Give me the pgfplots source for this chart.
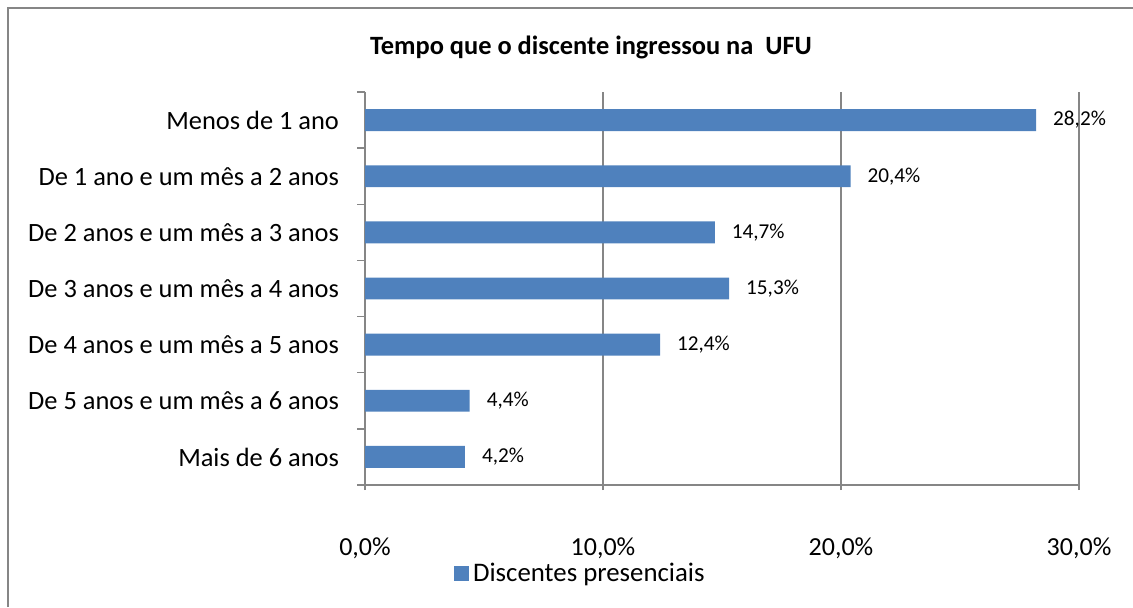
\documentclass[border=0pt]{standalone}
\usepackage{fontspec}
\setmainfont{Carlito}
\usepackage{pgfplots}
\pgfplotsset{compat=1.18}
\definecolor{barblue}{HTML}{4F81BD}
\definecolor{axgray}{HTML}{868686}
\begin{document}
\begin{tikzpicture}
\useasboundingbox (0,0) rectangle (566.5pt,303.5pt);
\draw[axgray, line width=1pt] (4pt,0) -- (4pt,299.5pt) -- (566.5pt,299.5pt);
\node[font=\fontsize{13.2}{15}\selectfont\bfseries] at (295.5pt,280pt) {Tempo que o discente ingressou na\ \ UFU};
\begin{axis}[
  at={(182.5pt,61pt)}, anchor=south west,
  scale only axis, width=357pt, height=196.5pt,
  xbar, bar width=0.39,
  xmin=0, xmax=30, ymin=-0.5, ymax=6.5,
  axis lines=left, axis line style={axgray, line width=0.75pt, -},
  xtick={0,10,20,30},
  xticklabels={{0,0\%},{10,0\%},{20,0\%},{30,0\%}},
  ytick={0,...,6},
  yticklabels={Mais de 6 anos, De 5 anos e um mês a 6 anos, De 4 anos e um mês a 5 anos, De 3 anos e um mês a 4 anos, De 2 anos e um mês a 3 anos, De 1 ano e um mês a 2 anos, Menos de 1 ano},
  minor ytick={-0.5,0.5,...,6.5},
  tick align=outside,
  major tick length=2.5pt, minor tick length=4pt,
  major y tick style={draw=none},
  minor y tick style={draw=axgray, line width=0.75pt},
  major x tick style={draw=axgray, line width=0.75pt},
  xmajorgrids, grid style={axgray, line width=0.75pt},
  xticklabel style={font=\fontsize{13}{15}\selectfont, yshift=-20.5pt},
  yticklabel style={font=\fontsize{13.2}{15}\selectfont, xshift=-7pt},
  /pgf/number format/assume math mode=true,
  nodes near coords={\pgfmathprintnumber[fixed,fixed zerofill,precision=1,use comma]{\pgfplotspointmeta}\%},
  nodes near coords style={font=\fontsize{10.6}{12}\selectfont, anchor=west, xshift=5pt, text=black},
  legend style={at={(0.303,-0.226)}, anchor=center, draw=none, font=\fontsize{13.4}{15}\selectfont, inner sep=0pt},
  legend image code/.code={\fill[barblue] (0pt,-3.75pt) rectangle (7.5pt,3.75pt);},
]
\addplot[fill=barblue, draw=none] coordinates {
 (4.2,0) (4.4,1) (12.4,2) (15.3,3) (14.7,4) (20.4,5) (28.2,6)
};
\addlegendentry{Discentes presenciais}
\end{axis}
\end{tikzpicture}
\end{document}
